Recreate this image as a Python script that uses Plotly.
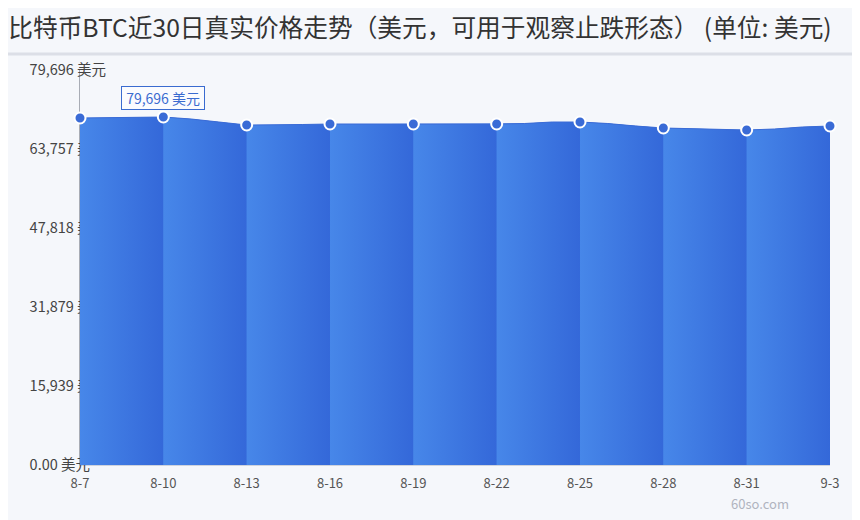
import plotly.graph_objects as go

# daily closing prices (USD)
dates = ["8-7", "8-8", "8-9", "8-10", "8-11", "8-12", "8-13", "8-14", "8-15", "8-16",
         "8-17", "8-18", "8-19", "8-20", "8-21", "8-22", "8-23", "8-24", "8-25", "8-26",
         "8-27", "8-28", "8-29", "8-30", "8-31", "9-1", "9-2", "9-3"]
prices = [70011, 70112, 70213, 70213, 69809, 69204, 68598, 68598, 68699, 68800,
          68800, 68800, 68800, 68800, 68800, 68800, 68901, 69204, 69204, 68901,
          68397, 67993, 67892, 67691, 67590, 67791, 68195, 68397]

y_max = 79696
y_ticks = [0, 15939.2, 31878.4, 47817.6, 63756.8, 79696]
# figure spaces keep the short label lined up on its left edge
y_ticktext = ["0.00 美元\u2007\u2007", "15,939 美元", "31,879 美元", "47,818 美元",
              "63,757 美元", "79,696 美元"]
x_ticks = dates[::3]

title = "比特币BTC近30日真实价格走势（美元，可用于观察止跌形态） (单位: 美元)"
font = "Noto Sans CJK SC"

W, H = 852, 512          # page adds an 8px body margin
L, R, T, B = 72, 30, 62, 55
pw, ph = W - L - R, H - T - B

fig = go.Figure()

# solid area underneath so the block seams don't show through
fig.add_trace(go.Scatter(
    x=dates, y=prices, mode="lines", fill="tozeroy",
    line=dict(color="#3a6bd6", width=0), fillcolor="#3d76de",
    hoverinfo="skip", showlegend=False,
))

# one area per 3-day block, each with its own left->right gradient
step = 3
for i in range(0, len(dates) - 1, step):
    fig.add_trace(go.Scatter(
        x=dates[i:i + step + 1], y=prices[i:i + step + 1],
        mode="lines", fill="tozeroy",
        line=dict(color="#3a6bd6", width=1),
        fillgradient=dict(type="horizontal",
                          colorscale=[[0, "#4787e9"], [1, "#3468d9"]]),
        hoverinfo="skip", showlegend=False,
    ))

fig.add_trace(go.Scatter(
    x=dates[::3], y=prices[::3], mode="markers",
    marker=dict(size=11, color="#3a6bd6", line=dict(color="white", width=2)),
    cliponaxis=False, showlegend=False,
))

fig.update_layout(
    width=W, height=H,
    margin=dict(l=L, r=R, t=T, b=B, autoexpand=False),
    paper_bgcolor="#f5f7fb", plot_bgcolor="rgba(0,0,0,0)",
    font=dict(family=font, color="#444"),
    title=dict(text=title, x=412 / W, xref="container", xanchor="center",
               y=1 - 20 / H, yanchor="middle",
               font=dict(size=24.7, color="#333", family=font)),
    xaxis=dict(type="category", range=[0, len(dates) - 1],
               tickvals=x_ticks, ticks="", showgrid=False, automargin=False,
               ticklabelstandoff=6,
               showline=True, linecolor="#cfd3dc", layer="below traces",
               tickfont=dict(size=13, color="#555")),
    yaxis=dict(range=[0, y_max], tickvals=y_ticks, ticktext=y_ticktext,
               ticks="", ticklabelstandoff=-30, automargin=False,
               showline=True, linecolor="#a8acb5", zeroline=False,
               showgrid=True, gridcolor="#dde0e8", layer="below traces",
               tickfont=dict(size=14.5, color="#444")),
    shapes=[
        # title separator
        dict(type="line", xref="paper", yref="paper", x0=-L / pw, x1=(W - L) / pw,
             y0=1 + 16 / ph, y1=1 + 16 / ph, line=dict(color="#dcdfe7", width=3)),
    ],
    annotations=[
        dict(x=dates[3], y=prices[3], xref="x", yref="y",
             text="\u00a079,696 美元\u00a0",
             showarrow=False, yshift=19, font=dict(size=14, color="#3a6bd0"),
             bordercolor="#3a6bd0", borderwidth=1, borderpad=1, bgcolor="#fafbfe"),
        dict(x=(752 - L) / pw, y=-38 / ph, xref="paper", yref="paper",
             xanchor="center", yanchor="middle",
             text="60so.com", showarrow=False, font=dict(size=13, color="#b0b4bf")),
    ],
)

fig.write_html("out.html")
